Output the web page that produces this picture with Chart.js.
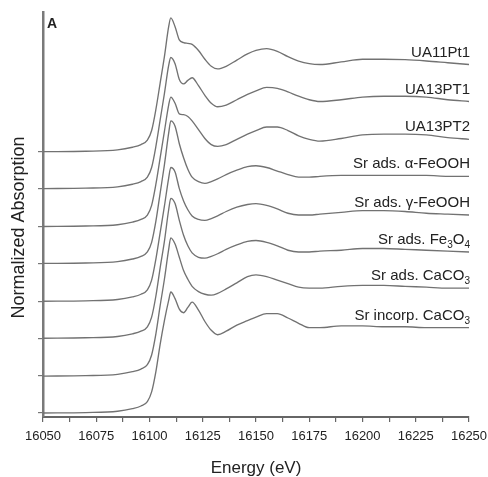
<!DOCTYPE html>
<html>
<head>
<meta charset="utf-8">
<script src="https://cdn.jsdelivr.net/npm/chart.js@4.4.1/dist/chart.umd.min.js"></script>
<style>
  html, body { margin: 0; padding: 0; background: #ffffff; }
  #wrap { width: 488px; height: 477px; position: relative; }
</style>
</head>
<body>
<div id="wrap"><canvas id="c" width="488" height="477"></canvas></div>
<script>
// ---- data ----
const ENERGY = [16050, 16070, 16085, 16092, 16096, 16099, 16101, 16103, 16105, 16107, 16109,
  16110, 16112, 16114, 16116, 16118, 16120, 16123, 16126, 16129, 16132, 16136, 16141, 16146,
  16150, 16155, 16160, 16165, 16170, 16175, 16180, 16190, 16200, 16210, 16220, 16230, 16240, 16250];

const UA11PT1 = [0, 0.005, 0.02, 0.05, 0.08, 0.13, 0.24, 0.48, 0.78, 1.08, 1.42,
  1.52, 1.42, 1.27, 1.24, 1.23, 1.22, 1.15, 1.05, 0.97, 0.94, 0.97, 1.04, 1.11,
  1.15, 1.17, 1.14, 1.08, 1.03, 1.00, 0.99, 1.02, 1.05, 1.05, 1.045, 1.03, 1.01, 0.99];
const UA13PT1 = [0, 0.005, 0.02, 0.05, 0.08, 0.13, 0.24, 0.48, 0.78, 1.08, 1.40,
  1.49, 1.42, 1.24, 1.19, 1.23, 1.26, 1.17, 1.06, 0.97, 0.93, 0.95, 1.01, 1.07,
  1.11, 1.15, 1.14, 1.10, 1.05, 1.01, 0.99, 1.01, 1.04, 1.05, 1.05, 1.04, 1.01, 0.99];
const UA13PT2 = [0, 0.005, 0.02, 0.05, 0.08, 0.13, 0.24, 0.48, 0.78, 1.08, 1.38,
  1.47, 1.40, 1.28, 1.27, 1.25, 1.20, 1.10, 1.00, 0.93, 0.91, 0.93, 0.99, 1.05,
  1.09, 1.13, 1.13, 1.09, 1.03, 0.99, 0.97, 1.00, 1.04, 1.05, 1.05, 1.04, 1.01, 0.99];
const ADS_A_FEOOH = [0, 0.005, 0.02, 0.05, 0.08, 0.13, 0.24, 0.48, 0.80, 1.12, 1.48,
  1.62, 1.56, 1.36, 1.20, 1.07, 0.98, 0.93, 0.91, 0.93, 0.96, 1.01, 1.06, 1.10,
  1.11, 1.09, 1.05, 1.01, 0.98, 0.98, 0.99, 1.00, 1.00, 1.00, 1.00, 1.00, 0.99, 0.99];
const ADS_G_FEOOH = [0, 0.005, 0.02, 0.05, 0.08, 0.13, 0.24, 0.48, 0.78, 1.08, 1.40,
  1.52, 1.47, 1.28, 1.14, 1.04, 0.97, 0.93, 0.92, 0.94, 0.97, 1.02, 1.07, 1.10,
  1.11, 1.09, 1.05, 1.00, 0.98, 0.98, 0.99, 1.01, 1.03, 1.03, 1.02, 1.00, 0.99, 0.98];
const ADS_FE3O4 = [0, 0.005, 0.02, 0.05, 0.08, 0.13, 0.24, 0.48, 0.80, 1.10, 1.46,
  1.59, 1.53, 1.34, 1.17, 1.05, 0.97, 0.92, 0.91, 0.93, 0.96, 1.01, 1.06, 1.10,
  1.11, 1.09, 1.05, 1.00, 0.98, 0.98, 0.99, 1.00, 1.02, 1.02, 1.01, 1.00, 0.99, 0.98];
const ADS_CACO3 = [0, 0.005, 0.02, 0.05, 0.08, 0.13, 0.24, 0.48, 0.80, 1.10, 1.44,
  1.57, 1.50, 1.35, 1.20, 1.10, 1.02, 0.96, 0.93, 0.92, 0.94, 0.99, 1.06, 1.13,
  1.15, 1.13, 1.09, 1.05, 1.01, 1.00, 1.00, 1.02, 1.03, 1.03, 1.02, 1.01, 1.00, 1.00];
const INCORP_CACO3 = [0, 0.005, 0.02, 0.05, 0.08, 0.13, 0.24, 0.47, 0.78, 1.05, 1.28,
  1.375, 1.30, 1.18, 1.14, 1.20, 1.26, 1.17, 1.04, 0.94, 0.89, 0.93, 1.00, 1.05,
  1.09, 1.13, 1.13, 1.08, 1.02, 0.97, 0.97, 0.99, 0.99, 0.98, 0.98, 0.97, 0.97, 0.97];

const SERIES = [UA11PT1, UA13PT1, UA13PT2, ADS_A_FEOOH, ADS_G_FEOOH, ADS_FE3O4, ADS_CACO3, INCORP_CACO3];
const LABELS = ['UA11Pt1', 'UA13PT1', 'UA13PT2', 'Sr ads. \u03B1-FeOOH', 'Sr ads. \u03B3-FeOOH',
  'Sr ads. Fe_3O_4', 'Sr ads. CaCO_3', 'Sr incorp. CaCO_3'];
const OFFSETS = [2.97, 2.55, 2.12, 1.70, 1.27, 0.85, 0.42, 0];
const X_TICK_VALUES = [16050, 16075, 16100, 16125, 16150, 16175, 16200, 16225, 16250];
const Y_TITLE = 'Normalized Absorption';
const X_TITLE = 'Energy (eV)';
const PANEL = 'A';

// ---- chart ----
const FONT = '"Liberation Sans", Arial, Helvetica, sans-serif';
const LINE = '#727272';

const datasets = SERIES.map((vals, i) => ({
  label: LABELS[i],
  data: ENERGY.map((e, k) => ({ x: e, y: vals[k] + OFFSETS[i] })),
  borderColor: LINE,
  borderWidth: 1.35,
  pointRadius: 0,
  fill: false,
  cubicInterpolationMode: 'monotone'
}));

function drawRich(ctx, text, xRight, yBase) {
  const parts = [];
  for (let i = 0; i < text.length; i++) {
    if (text[i] === '_' && i + 1 < text.length) { parts.push({ t: text[i + 1], sub: true }); i++; }
    else {
      if (parts.length && !parts[parts.length - 1].sub) parts[parts.length - 1].t += text[i];
      else parts.push({ t: text[i], sub: false });
    }
  }
  const mainF = '15px ' + FONT, subF = '10px ' + FONT;
  let total = 0;
  parts.forEach(p => { ctx.font = p.sub ? subF : mainF; p.w = ctx.measureText(p.t).width; total += p.w; });
  let x = xRight - total;
  ctx.textAlign = 'left';
  ctx.textBaseline = 'alphabetic';
  parts.forEach(p => {
    ctx.font = p.sub ? subF : mainF;
    ctx.fillText(p.t, x, p.sub ? yBase + 4 : yBase);
    x += p.w;
  });
}

const labelPlugin = {
  id: 'curveLabels',
  afterDatasetsDraw(chart) {
    const { ctx, chartArea, scales } = chart;
    ctx.save();
    ctx.fillStyle = '#222222';
    SERIES.forEach((vals, i) => {
      const py = scales.y.getPixelForValue(vals[vals.length - 1] + OFFSETS[i]);
      drawRich(ctx, LABELS[i], chartArea.right + 1, py - 8);
    });
    ctx.font = '600 14px ' + FONT;
    ctx.textAlign = 'left';
    ctx.textBaseline = 'alphabetic';
    ctx.fillText(PANEL, chartArea.left + 4, chartArea.top + 16);
    // y-axis title, centred slightly below the axis middle as in the reference
    ctx.translate(19, (chartArea.top + chartArea.bottom) / 2 + 13);
    ctx.rotate(-Math.PI / 2);
    ctx.font = '18px ' + FONT;
    ctx.textAlign = 'center';
    ctx.textBaseline = 'middle';
    ctx.fillText(Y_TITLE, 0, 0);
    ctx.restore();
  }
};

new Chart(document.getElementById('c'), {
  type: 'line',
  data: { datasets },
  plugins: [labelPlugin],
  options: {
    responsive: false,
    animation: false,
    layout: { padding: { top: 12, right: 19, left: 0, bottom: 0 } },
    plugins: { legend: { display: false }, tooltip: { enabled: false } },
    scales: {
      x: {
        type: 'linear',
        min: 16050, max: 16250,
        afterFit(s) { s.height = 60; s.paddingLeft = 0; s.paddingRight = 0; },
        afterBuildTicks(s) {
          const t = [];
          for (let k = 0; k < X_TICK_VALUES.length; k++) {
            t.push({ value: X_TICK_VALUES[k] });
            if (k < X_TICK_VALUES.length - 1) t.push({ value: (X_TICK_VALUES[k] + X_TICK_VALUES[k + 1]) / 2 });
          }
          s.ticks = t;
        },
        ticks: {
          autoSkip: false, maxRotation: 0, padding: 7,
          color: '#222', font: { family: FONT, size: 13 },
          callback: v => (X_TICK_VALUES.includes(v) ? String(v) : '')
        },
        grid: { drawOnChartArea: false, drawTicks: true, tickLength: 5, color: '#666', lineWidth: 1.2 },
        border: { display: true, color: '#666', width: 2 },
        title: { display: true, text: X_TITLE, color: '#222',
          font: { family: FONT, size: 17, lineHeight: 1 }, padding: { top: 0, bottom: 0 } }
      },
      y: {
        type: 'linear',
        min: -0.045, max: 4.557,
        afterFit(s) { s.width = 43; s.paddingTop = 0; s.paddingBottom = 0; },
        afterBuildTicks(s) { s.ticks = OFFSETS.map(v => ({ value: v })); },
        ticks: { callback: () => '', padding: 0 },
        grid: { drawOnChartArea: false, drawTicks: true, tickLength: 5, color: '#777', lineWidth: 1.2 },
        border: { display: true, color: '#7a7a7a', width: 2.5 },
        title: { display: false }
      }
    }
  }
});
</script>
</body>
</html>
